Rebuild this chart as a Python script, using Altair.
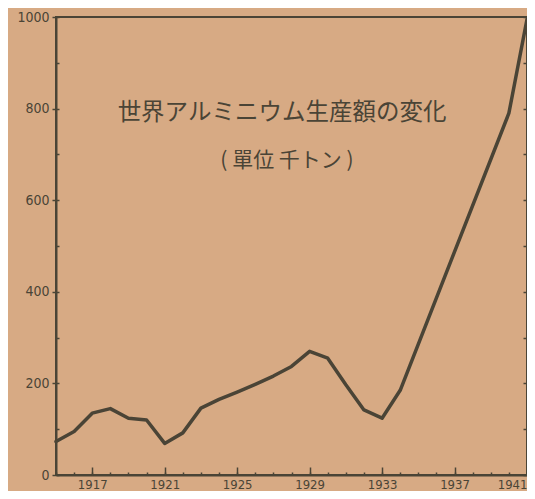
import altair as alt
import pandas as pd

# ---- data (thousand tonnes) ----
years = [1915, 1916, 1917, 1918, 1919, 1920, 1921, 1922, 1923, 1924, 1925,
         1926, 1927, 1928, 1929, 1930, 1931, 1932, 1933, 1934, 1940, 1941]
values = [73, 95, 135, 145, 124, 120, 69, 92, 146, 165, 181,
          198, 216, 237, 270, 255, 197, 142, 124, 185, 790, 995]

x_label_years = [1917, 1921, 1925, 1929, 1933, 1937, 1941]
x_minor_years = list(range(1915, 1942))
y_major = [0, 200, 400, 600, 800, 1000]
y_minor = list(range(0, 1001, 100))

title_text = "世界アルミニウム生産額の変化"
subtitle_text = "(  單位  千トン  )"

df = pd.DataFrame({"year": years, "value": values})

INK = "#4a4436"
PAPER = "#d7aa84"
W, H = 471, 458
NUMFONT = "Liberation Sans Narrow, DejaVu Sans Condensed, sans-serif"
CJK = "Noto Sans CJK JP"

xscale = alt.Scale(domain=[1915, 1941], nice=False, zero=False)
yscale = alt.Scale(domain=[0, 1000], nice=False)

base = alt.Chart(df)

line = base.mark_line(color=INK, strokeWidth=3.5, strokeJoin="round", strokeCap="round").encode(
    x=alt.X("year:Q", scale=xscale,
            axis=alt.Axis(orient="bottom", values=x_label_years, format="d", title=None,
                          ticks=False, tickSize=0, labelPadding=3, domainColor=INK,
                          domainWidth=2, grid=False, labelFont=NUMFONT, labelFontSize=13,
                          labelColor=INK)),
    y=alt.Y("value:Q", scale=yscale,
            axis=alt.Axis(orient="left", values=y_major, format="d", title=None, tickSize=4,
                          tickColor=INK, tickWidth=1.5, labelPadding=3, domainColor=INK,
                          domainWidth=2, grid=False, labelFont=NUMFONT, labelFontSize=14,
                          labelColor=INK)),
)

ghost = base.mark_line(strokeOpacity=0)

x_minor = ghost.encode(
    x=alt.X("year:Q", scale=xscale,
            axis=alt.Axis(orient="top", offset=-H, labels=False, domain=False, grid=False,
                          values=x_minor_years, tickSize=3, tickWidth=1.5, tickColor=INK,
                          title=None)),
    y=alt.Y("value:Q", scale=yscale, axis=None),
)
x_major = ghost.encode(
    x=alt.X("year:Q", scale=xscale,
            axis=alt.Axis(orient="top", offset=-H, labels=False, domain=False, grid=False,
                          values=x_label_years, tickSize=8, tickWidth=1.5, tickColor=INK,
                          title=None)),
    y=alt.Y("value:Q", scale=yscale, axis=None),
)
y_right = ghost.encode(
    x=alt.X("year:Q", scale=xscale, axis=None),
    y=alt.Y("value:Q", scale=yscale,
            axis=alt.Axis(orient="left", offset=-W, labels=False, domain=False, grid=False,
                          values=y_minor, tickSize=4, tickWidth=1.5, tickColor=INK,
                          title=None)),
)
y_left_in = ghost.encode(
    x=alt.X("year:Q", scale=xscale, axis=None),
    y=alt.Y("value:Q", scale=yscale,
            axis=alt.Axis(orient="right", offset=-W, labels=False, domain=False, grid=False,
                          values=y_minor, tickSize=3, tickWidth=1.5, tickColor=INK,
                          title=None)),
)

title = alt.Chart(pd.DataFrame({"t": [title_text]})).mark_text(
    font=CJK, fontSize=23.5, color=INK, align="center", baseline="middle"
).encode(text="t:N", x=alt.value(226), y=alt.value(96))

subtitle = alt.Chart(pd.DataFrame({"t": [subtitle_text]})).mark_text(
    font=CJK, fontSize=21, color=INK, align="center", baseline="middle"
).encode(text="t:N", x=alt.value(231), y=alt.value(144))

chart = (
    alt.layer(line, x_minor, x_major, y_right, y_left_in, title, subtitle)
    .resolve_axis(x="independent", y="independent")
    .properties(width=W, height=H, autosize="none",
                padding={"left": 48, "top": 9, "right": 0, "bottom": 16},
                background=PAPER)
    .configure_view(stroke=INK, strokeWidth=2)
)

chart.save("out.html", embed_options={"renderer": "svg", "actions": False})
